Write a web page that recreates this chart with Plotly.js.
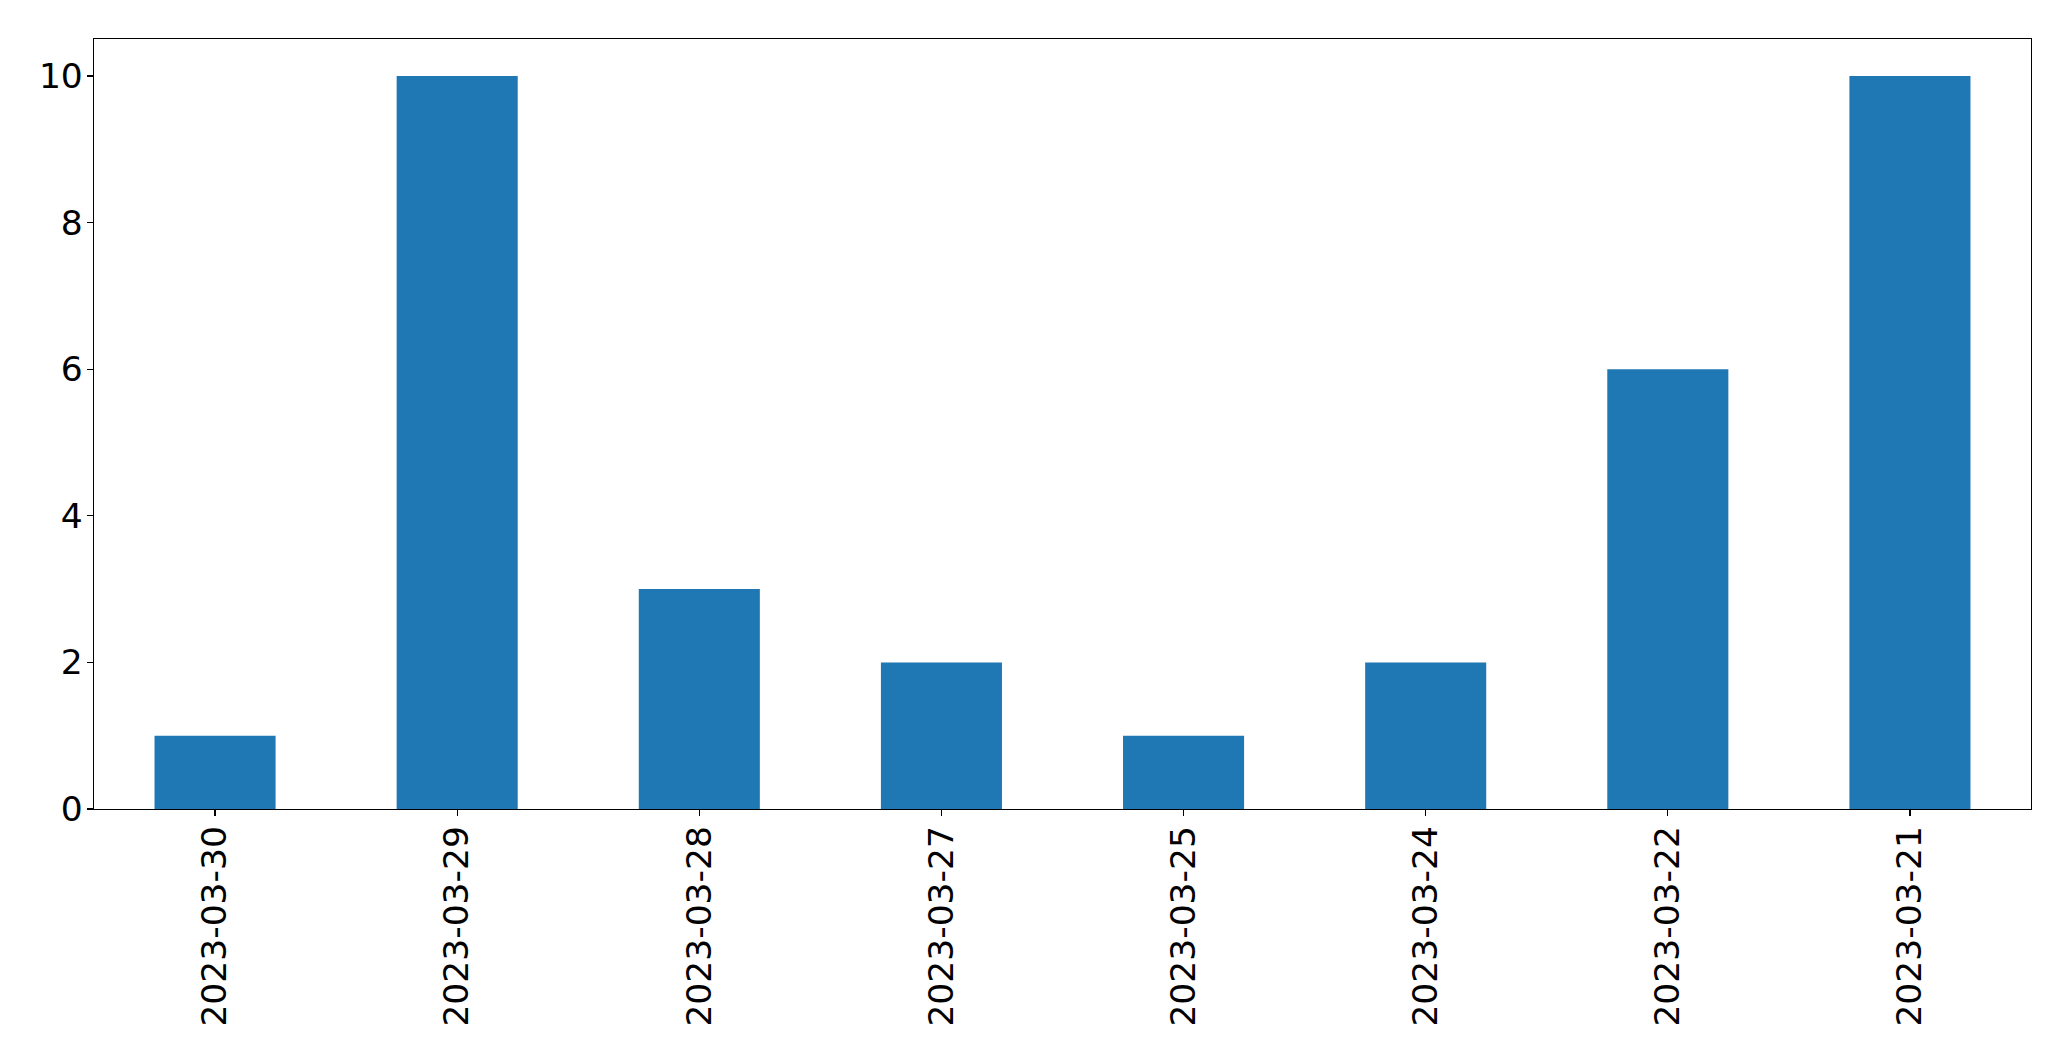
<!DOCTYPE html>
<html>
<head>
<meta charset="utf-8">
<script src="https://cdn.plot.ly/plotly-3.0.1.min.js"></script>
<style>html,body{margin:0;padding:0;background:#fff;}#chart{width:2071px;height:1061px;}</style>
</head>
<body>
<div id="chart"></div>
<script>
const categories = ["2023-03-30","2023-03-29","2023-03-28","2023-03-27","2023-03-25","2023-03-24","2023-03-22","2023-03-21"];
const counts = [1, 10, 3, 2, 1, 2, 6, 10];
const yTicks = [0, 2, 4, 6, 8, 10];

const font = {family: "DejaVu Sans", size: 34.5, color: "#000"};
Plotly.newPlot("chart", [{
  type: "bar",
  x: categories,
  y: counts,
  width: 0.5,
  marker: {color: "#1f77b4", line: {width: 0}},
  hoverinfo: "x+y"
}], {
  width: 2071, height: 1061,
  margin: {l: 94, r: 40, t: 39, b: 252, pad: 0},
  paper_bgcolor: "#fff", plot_bgcolor: "#fff",
  showlegend: false,
  font: font,
  xaxis: {
    type: "category",
    range: [-0.5, 7.5],
    tickangle: -90,
    ticks: "outside", ticklen: 6, tickwidth: 1.3, tickcolor: "#000",
    showline: true, linecolor: "#000", linewidth: 1.3, mirror: true,
    showgrid: false, zeroline: false,
    ticklabelstandoff: -4,
    tickfont: font
  },
  yaxis: {
    range: [0, 10.505],
    tickvals: yTicks,
    ticktext: yTicks.map(String),
    ticks: "outside", ticklen: 6, tickwidth: 1.3, tickcolor: "#000",
    showline: true, linecolor: "#000", linewidth: 1.3, mirror: true,
    showgrid: false, zeroline: false,
    ticklabelstandoff: -3,
    tickfont: font
  }
}, {displayModeBar: false, staticPlot: true});
</script>
</body>
</html>
